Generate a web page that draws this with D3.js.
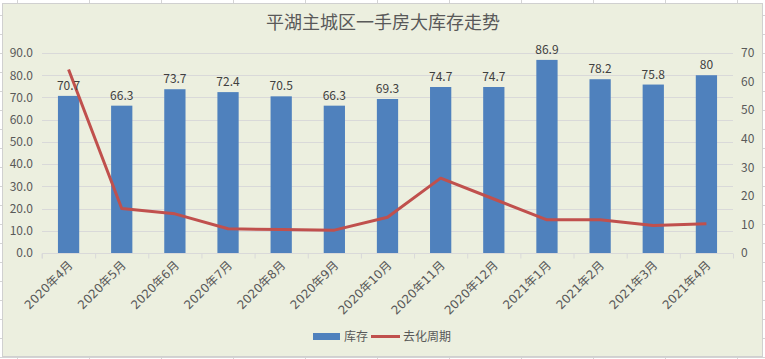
<!DOCTYPE html>
<html><head><meta charset="utf-8">
<script src="https://cdn.jsdelivr.net/npm/d3@7"></script>
<style>body{margin:0;background:#fff}svg{display:block}</style>
</head><body>
<svg id="c" width="765" height="359"></svg>
<script>
const categories = ["2020年4月","2020年5月","2020年6月","2020年7月","2020年8月","2020年9月","2020年10月","2020年11月","2020年12月","2021年1月","2021年2月","2021年3月","2021年4月"];
const inventory = [70.7,66.3,73.7,72.4,70.5,66.3,69.3,74.7,74.7,86.9,78.2,75.8,80];
const inventoryLabels = ["70.7","66.3","73.7","72.4","70.5","66.3","69.3","74.7","74.7","86.9","78.2","75.8","80"];
const cycle = [64.2,15.6,13.7,8.5,8.2,8.0,12.5,26.2,18.9,11.6,11.6,9.6,10.2];
const leftTicks = [0,10,20,30,40,50,60,70,80,90];
const rightTicks = [0,10,20,30,40,50,60,70];
const title = "平湖主城区一手房大库存走势";
const seriesNames = ["库存","去化周期"];

const svg = d3.select("#c");
const font = "'Noto Sans CJK SC','Noto Sans',sans-serif";
const xfont = "'DejaVu Sans','Noto Sans CJK SC',sans-serif";
const txt = "#595959";

// excel-ish cell lines outside chart
const cellG = svg.append("g").attr("stroke","#d4d4d4").attr("stroke-width",1);
[17,89,161,233,305,377,449,521,593,665,737].forEach(x=>cellG.append("line").attr("x1",x+.5).attr("x2",x+.5).attr("y1",0).attr("y2",359));
[15,34,53,72,91,110,129,148,167,186,205,224,243,262,281,300,319,338,357].forEach(y=>cellG.append("line").attr("x1",0).attr("x2",765).attr("y1",y+.5).attr("y2",y+.5));

svg.append("rect").attr("x",2.5).attr("y",3.5).attr("width",760).attr("height",353)
  .attr("fill","#ECEFDF").attr("stroke","#d0d0d0");

const m = {l:42,r:733,t:53,b:253};
const x = d3.scaleBand().domain(categories).range([m.l,m.r]).paddingInner(0.6).paddingOuter(0.3);
const xc = d => x(d)+x.bandwidth()/2;
const yL = d3.scaleLinear().domain([0,90]).range([m.b,m.t]);
const yR = d3.scaleLinear().domain([0,70]).range([m.b,m.t]);

// gridlines
svg.append("g").selectAll("line").data(leftTicks.slice(1)).join("line")
  .attr("x1",m.l).attr("x2",m.r).attr("y1",d=>Math.round(yL(d))+.5).attr("y2",d=>Math.round(yL(d))+.5)
  .attr("stroke","#d9d9d9");

// bars
svg.append("g").selectAll("rect").data(inventory).join("rect")
  .attr("x",(d,i)=>x(categories[i])).attr("width",x.bandwidth())
  .attr("y",d=>yL(d)).attr("height",d=>yL(0)-yL(d)).attr("fill","#4F81BD");

// x axis
const xa = svg.append("g").attr("transform",`translate(0,${m.b+.5})`)
  .call(d3.axisBottom(d3.scaleLinear().domain([0,categories.length]).range([m.l,m.r])).ticks(categories.length).tickSize(5).tickFormat(""));
xa.selectAll("path,line").attr("stroke","#d9d9d9");
xa.select(".domain").attr("d",`M${m.l},5V0H${m.r}`);

svg.append("g").selectAll("text").data(categories).join("text")
  .attr("transform",d=>`translate(${xc(d)+5},${m.b+13}) rotate(-45)`)
  .attr("text-anchor","end").attr("font-size",12).attr("font-family",xfont).attr("fill",txt).text(d=>d);

// left axis
const la = svg.append("g").attr("transform",`translate(${m.l},0)`)
  .call(d3.axisLeft(yL).tickValues(leftTicks).tickSize(0).tickPadding(9).tickFormat(d3.format(".1f")));
la.select(".domain").remove();
la.selectAll("text").attr("font-size",12).attr("font-family",font).attr("fill",txt);

// right axis
const ra = svg.append("g").attr("transform",`translate(${m.r},0)`)
  .call(d3.axisRight(yR).tickValues(rightTicks).tickSize(0).tickPadding(8));
ra.select(".domain").remove();
ra.selectAll("text").attr("font-size",12).attr("font-family",font).attr("fill",txt);

// line
svg.append("path").datum(cycle)
  .attr("d",d3.line().x((d,i)=>xc(categories[i])).y(d=>yR(d)))
  .attr("fill","none").attr("stroke","#C0504D").attr("stroke-width",3).attr("stroke-linejoin","round");

// bar labels
svg.append("g").selectAll("text").data(inventory).join("text")
  .attr("x",(d,i)=>xc(categories[i])).attr("y",d=>yL(d)-6)
  .attr("text-anchor","middle").attr("font-size",12).attr("font-family",font).attr("fill","#404040")
  .text((d,i)=>inventoryLabels[i]);

// title
svg.append("text").attr("x",383).attr("y",29).attr("text-anchor","middle")
  .attr("font-size",18).attr("font-family",font).attr("fill",txt).text(title);

// legend
const lg = svg.append("g").attr("font-size",12).attr("font-family",font).attr("fill",txt);
lg.append("rect").attr("x",313).attr("y",333).attr("width",27).attr("height",7).attr("fill","#4F81BD");
lg.append("text").attr("x",344).attr("y",341).text(seriesNames[0]);
lg.append("line").attr("x1",371).attr("x2",400).attr("y1",336.5).attr("y2",336.5).attr("stroke","#C0504D").attr("stroke-width",3);
lg.append("text").attr("x",403).attr("y",341).text(seriesNames[1]);
</script>
</body></html>
